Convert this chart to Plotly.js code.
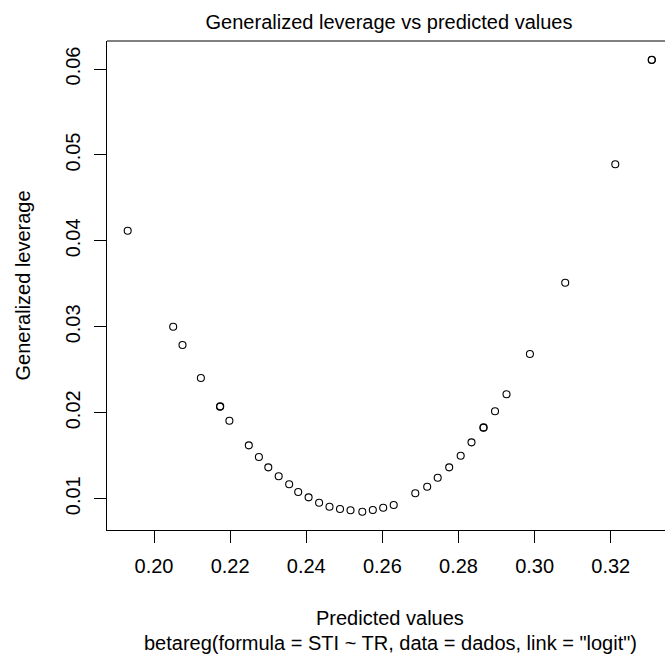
<!DOCTYPE html>
<html>
<head>
<meta charset="utf-8">
<script src="https://cdn.plot.ly/plotly-3.0.1.min.js"></script>
<style>
  html, body { margin: 0; padding: 0; background: #ffffff; }
  #chart { width: 665px; height: 655px; }
</style>
</head>
<body>
<div id="chart"></div>
<script>
// Fitted means of the beta regression and their generalized leverage
const predicted = [
  0.19309, 0.20504, 0.20749, 0.21232, 0.21734, 0.21740, 0.21981, 0.22491,
  0.22756, 0.23003, 0.23276, 0.23552, 0.23789, 0.24062, 0.24338, 0.24611,
  0.24887, 0.25163, 0.25473, 0.25749, 0.26022, 0.26298, 0.26865, 0.27178,
  0.27454, 0.27756, 0.28058, 0.28342, 0.28655, 0.28660, 0.28960, 0.29262,
  0.29877, 0.30804, 0.32120, 0.33077, 0.33080
];
const leverage = [
  0.04118, 0.03001, 0.02788, 0.02404, 0.02071, 0.02075, 0.01908, 0.01621,
  0.01485, 0.01365, 0.01261, 0.01168, 0.01078, 0.01016, 0.00953, 0.00907,
  0.00880, 0.00865, 0.00849, 0.00869, 0.00895, 0.00927, 0.01063, 0.01140,
  0.01244, 0.01365, 0.01500, 0.01656, 0.01826, 0.01830, 0.02017, 0.02215,
  0.02684, 0.03513, 0.04891, 0.06105, 0.06108
];

const xTicks = [0.20, 0.22, 0.24, 0.26, 0.28, 0.30, 0.32];
const xTickText = ["0.20", "0.22", "0.24", "0.26", "0.28", "0.30", "0.32"];
const yTicks = [0.01, 0.02, 0.03, 0.04, 0.05, 0.06];
const yTickText = ["0.01", "0.02", "0.03", "0.04", "0.05", "0.06"];

const FONT = "Liberation Sans, Arial, Helvetica, sans-serif";

const trace = {
  type: "scatter",
  mode: "markers",
  x: predicted,
  y: leverage,
  marker: {
    symbol: "circle-open",
    size: 7,
    color: "#000000",
    line: { color: "#000000", width: 1.1 }
  },
  hoverinfo: "x+y"
};

const axisCommon = {
  showgrid: false,
  zeroline: false,
  showline: true,
  linecolor: "#000000",
  linewidth: 1,
  mirror: false,
  ticks: "outside",
  ticklen: 12,
  tickwidth: 1,
  tickcolor: "#000000",
  tickfont: { family: FONT, size: 20, color: "#000000" }
};

const layout = {
  width: 665,
  height: 655,
  margin: { l: 107, r: 0, t: 41, b: 125 },
  paper_bgcolor: "#ffffff",
  plot_bgcolor: "#ffffff",
  showlegend: false,
  title: {
    text: "Generalized leverage vs predicted values",
    font: { family: FONT, size: 20, color: "#000000" },
    x: 389 / 665,
    xanchor: "center",
    xref: "container",
    y: 1 - 22 / 655,
    yanchor: "middle",
    yref: "container"
  },
  xaxis: Object.assign({}, axisCommon, {
    range: [0.18765, 0.33426],
    tickmode: "array",
    tickvals: xTicks,
    ticktext: xTickText,
    ticklabelstandoff: 6
  }),
  yaxis: Object.assign({}, axisCommon, {
    range: [0.00636, 0.06326],
    tickmode: "array",
    tickvals: yTicks,
    ticktext: yTickText,
    tickangle: -90,
    ticklabelstandoff: 6
  }),
  shapes: [
    // upper edge of the plot box
    {
      type: "line", xref: "paper", yref: "paper",
      x0: 0, x1: 1, y0: 1, y1: 1,
      line: { color: "#000000", width: 1 }
    }
  ],
  annotations: [
    {
      text: "Predicted values",
      xref: "paper", yref: "paper", x: 0.5, y: 0,
      xshift: 4, yshift: -88,
      xanchor: "center", yanchor: "middle",
      showarrow: false,
      font: { family: FONT, size: 20, color: "#000000" }
    },
    {
      text: "betareg(formula = STI ~ TR, data = dados, link = \"logit\")",
      xref: "paper", yref: "paper", x: 0.5, y: 0,
      xshift: 4, yshift: -113,
      xanchor: "center", yanchor: "middle",
      showarrow: false,
      font: { family: FONT, size: 20, color: "#000000" }
    },
    {
      text: "Generalized leverage",
      xref: "paper", yref: "paper", x: 0, y: 0.5,
      xshift: -85,
      xanchor: "center", yanchor: "middle",
      textangle: -90,
      showarrow: false,
      font: { family: FONT, size: 20, color: "#000000" }
    }
  ]
};

Plotly.newPlot("chart", [trace], layout, { displayModeBar: false, staticPlot: true });
</script>
</body>
</html>
